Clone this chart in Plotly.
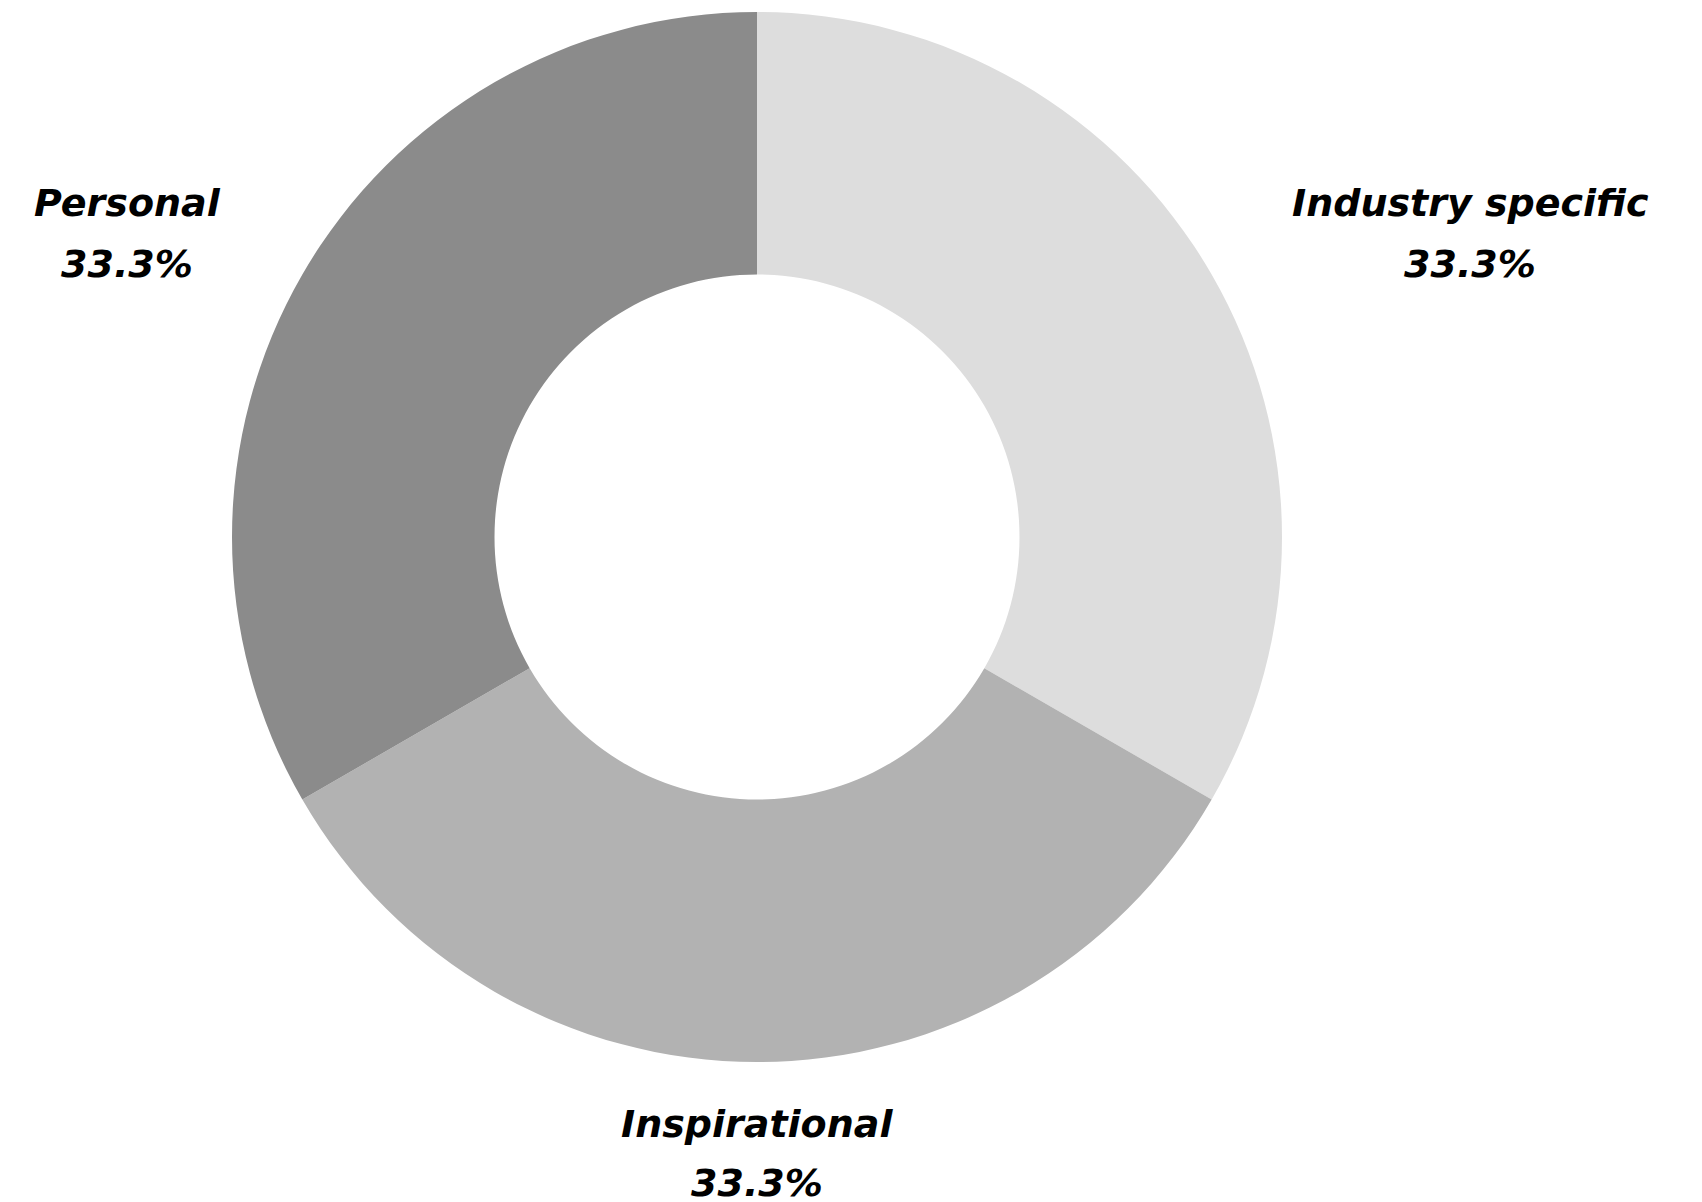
import plotly.graph_objects as go

labels = ["Industry specific", "Inspirational", "Personal"]
values = [1, 1, 1]
colors = ["#DDDDDD", "#B2B2B2", "#8B8B8B"]

W, H = 1702, 1202

# label anchor positions (page pixels, from top-left) for the two text lines
label_x_px = [1470, 757, 127]
label_y_px = [[203, 264], [1124, 1183], [203, 264]]

cx, cy, r = 757, 537, 525

fig = go.Figure(go.Pie(
    labels=labels,
    values=values,
    hole=0.5,
    sort=False,
    direction="clockwise",
    rotation=0,
    marker=dict(colors=colors, line=dict(width=0)),
    textinfo="none",
    hoverinfo="label+percent",
    domain=dict(x=[(cx - r) / W, (cx + r) / W], y=[(H - cy - r) / H, (H - cy + r) / H]),
    showlegend=False,
))

total = sum(values)
font = dict(family="DejaVu Sans", size=38, color="#000000", weight="bold", style="italic")
for lab, v, x, ys in zip(labels, values, label_x_px, label_y_px):
    pct = f"{100 * v / total:.1f}%"
    for txt, y in zip([lab, pct], ys):
        fig.add_annotation(text=txt, x=x / W, y=1 - y / H,
                           xref="paper", yref="paper",
                           xanchor="center", yanchor="middle", showarrow=False, font=font)

fig.update_layout(width=W, height=H, margin=dict(l=0, r=0, t=0, b=0),
                  paper_bgcolor="white", plot_bgcolor="white")
fig.write_html(
    "out.html",
    config={"displayModeBar": False},
    post_script="document.body.style.margin='0';document.documentElement.style.overflow='hidden';document.body.style.overflow='hidden';",
)
